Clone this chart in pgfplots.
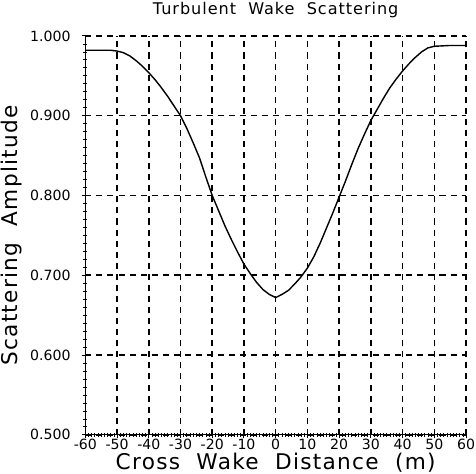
\documentclass[border=0pt]{standalone}
\usepackage{pgfplots}
\pgfplotsset{compat=1.18}
\usepackage{fontspec}
\setmainfont{DejaVu Sans}
\newfontfamily\widefont[LetterSpace=6]{DejaVu Sans}
\begin{document}
\begin{tikzpicture}
\begin{axis}[
  scale only axis,
  width=377bp, height=395bp,
  xmin=-60, xmax=60, ymin=0.5, ymax=1.0,
  axis x line*=bottom, axis y line*=left,
  axis line style={line width=1.3pt},
  xtick={-60,-50,...,60},
  ytick={0.5,0.6,...,1.0},
  minor x tick num=9, minor y tick num=9,
  tick align=center,
  major tick length=7pt, minor tick length=4pt,
  tick style={black, line width=1pt},
  minor tick style={black, line width=0.7pt},
  grid=major,
  major grid style={black, line width=1.5pt, dash pattern=on 6pt off 5pt},
  /pgf/number format/assume math mode=true,
  /pgf/number format/.cd, fixed, fixed zerofill, precision=3, /pgfplots/.cd,
  xticklabel style={font=\fontsize{14}{14}\selectfont, /pgf/number format/precision=0, /pgf/number format/fixed zerofill=false, inner sep=1pt},
  yticklabel style={font=\fontsize{14}{14}\selectfont, inner sep=1pt, xshift=-10pt},
  xlabel={Cross\ \ Wake\ \ Distance\ \ (m)},
  ylabel={Scattering\ \ Amplitude},
  xlabel style={font=\widefont\fontsize{21.5}{22}\selectfont, inner sep=1pt, yshift=-1pt},
  ylabel style={font=\widefont\fontsize{21.5}{22}\selectfont, inner sep=1.5pt, yshift=5pt},
  title={Turbulent\ \ Wake\ \ Scattering},
  title style={font=\widefont\fontsize{16}{16}\selectfont, inner sep=2pt, yshift=10pt},
]
\addplot[black, line width=1.4pt] coordinates {
(-60,0.982) (-55,0.982) (-52,0.982) (-50,0.981) (-48,0.979) (-46,0.975) (-44,0.969) (-42,0.962)
(-40,0.954) (-38,0.945) (-36,0.935) (-34,0.924) (-32,0.912) (-30,0.900) (-28,0.884) (-26,0.866)
(-24,0.847) (-22,0.823) (-20,0.800) (-18,0.781) (-16,0.762) (-14,0.745) (-12,0.729)
(-10,0.714) (-8,0.702) (-6,0.691) (-4,0.682) (-2,0.676) (0,0.672) (2,0.676)
(4,0.681) (6,0.689) (8,0.698) (10,0.709) (12,0.723) (14,0.740) (16,0.759) (18,0.778) (20,0.798) (22,0.818) (24,0.839)
(26,0.859) (28,0.877) (30,0.894) (32,0.908) (34,0.922) (36,0.935) (38,0.946) (40,0.956) (42,0.965) (44,0.973) (46,0.980) (48,0.985) (50,0.987) (55,0.988) (60,0.988)
};
\end{axis}
\end{tikzpicture}
\end{document}
